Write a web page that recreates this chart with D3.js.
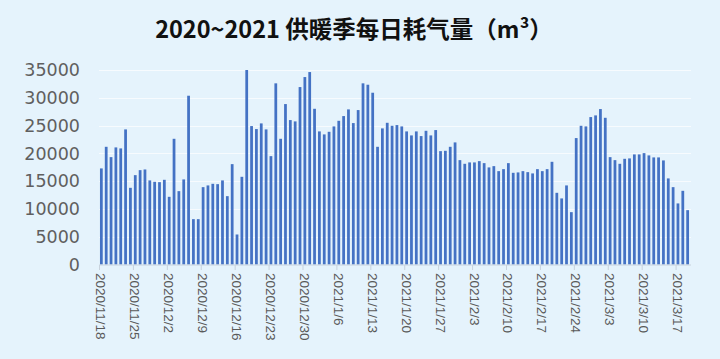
<!DOCTYPE html>
<html>
<head>
<meta charset="utf-8">
<script src="https://cdn.jsdelivr.net/npm/d3@7"></script>
<style>
  html, body { margin: 0; padding: 0; background: #e5f3fc; }
  svg { display: block; }
</style>
</head>
<body>
<svg id="chart" width="720" height="359"></svg>
<script>
const title = "2020~2021 供暖季每日耗气量（m³）";
const startDate = "2020/11/18";
const values = [
  17290, 21180, 19320, 21070, 20890, 24310, 13800, 16080, 16980, 17100,
  15130, 14880, 14820, 15240, 12180, 22620, 13200, 15310, 30370, 8160,
  8160, 13920, 14230, 14520, 14460, 15130, 12300, 18060, 5400, 15780,
  35000, 24910, 24370, 25390, 24310, 19500, 32600, 22620, 28870, 25990,
  25750, 31930, 33730, 34630, 28020, 23950, 23410, 23880, 24850, 25860,
  26710, 27910, 25450, 27790, 32600, 32350, 30910, 21180, 24490, 25500,
  24960, 25090, 24850, 23950, 23230, 23950, 23110, 24060, 23230, 24190,
  20400, 20460, 21180, 21970, 18780, 18120, 18370, 18370, 18600, 18240,
  17470, 17700, 16800, 17160, 18240, 16500, 16570, 16800, 16620, 16390,
  17160, 16800, 17160, 18480, 12900, 11890, 14230, 9420, 22750, 24960,
  24850, 26530, 26830, 27970, 26400, 19320, 18780, 18120, 19020, 19090,
  19810, 19810, 20040, 19630, 19270, 19270, 18730, 15490, 13920, 10990,
  13260, 9780
];
const yTicks = [0, 5000, 10000, 15000, 20000, 25000, 30000, 35000];
const tickLabels = ["2020/11/18", "2020/11/25", "2020/12/2", "2020/12/9", "2020/12/16",
  "2020/12/23", "2020/12/30", "2021/1/6", "2021/1/13", "2021/1/20", "2021/1/27",
  "2021/2/3", "2021/2/10", "2021/2/17", "2021/2/24", "2021/3/3", "2021/3/10", "2021/3/17"];

const parse = d3.timeParse("%Y/%m/%d");
const fmt = d => `${d.getFullYear()}/${d.getMonth() + 1}/${d.getDate()}`;
const start = parse(startDate);
const categories = values.map((v, i) => fmt(d3.timeDay.offset(start, i)));
const data = categories.map((c, i) => ({ c, v: values[i] }));

const svg = d3.select("#chart");
const W = 720, H = 359;

svg.append("rect").attr("width", W).attr("height", H).attr("fill", "#e5f3fc");

const x = d3.scaleBand().domain(categories).range([99, 690]).paddingInner(0.43).paddingOuter(0.2);
const y = d3.scaleLinear().domain([0, 35000]).range([264.5, 70]);

// gridlines
svg.append("g").selectAll("line").data(yTicks.filter(t => t > 0)).join("line")
  .attr("x1", 99).attr("x2", 691)
  .attr("y1", d => Math.round(y(d)) + 0.5).attr("y2", d => Math.round(y(d)) + 0.5)
  .attr("stroke", "#f7fbfe").attr("stroke-width", 1.2);

// y labels
svg.append("g").selectAll("text").data(yTicks).join("text")
  .attr("x", 80).attr("y", d => y(d)).attr("dy", "0.36em")
  .attr("text-anchor", "end")
  .attr("font-family", "'DejaVu Sans', sans-serif").attr("font-size", 17.5)
  .attr("fill", "#5f5f5f").text(d => d);

// bars
svg.append("g").selectAll("rect").data(data).join("rect")
  .attr("x", d => x(d.c)).attr("width", x.bandwidth())
  .attr("y", d => y(d.v)).attr("height", d => y(0) - y(d.v))
  .attr("fill", "#4472c4");

// x axis line
svg.append("line").attr("x1", 99).attr("x2", 691).attr("y1", 265).attr("y2", 265)
  .attr("stroke", "#c8d2dc").attr("stroke-width", 1);

const step = x.step();
const tickCats = tickLabels.filter(l => categories.includes(l));
svg.append("g").selectAll("line").data(tickCats).join("line")
  .attr("x1", d => x(d) - step * 0.1).attr("x2", d => x(d) - step * 0.1)
  .attr("y1", 265).attr("y2", 270)
  .attr("stroke", "#c8d2dc");

svg.append("g").selectAll("text").data(tickCats).join("text")
  .attr("transform", d => `translate(${x(d) + x.bandwidth() / 2},273) rotate(90)`)
  .attr("dy", "0.36em")
  .attr("text-anchor", "start")
  .attr("font-family", "'Liberation Sans', Arial, sans-serif").attr("font-size", 13.5)
  .attr("fill", "#595959").text(d => d);

// title
svg.append("text").attr("x", 354).attr("y", 38).attr("text-anchor", "middle")
  .attr("font-family", "'Noto Sans CJK SC', 'Noto Sans', sans-serif")
  .attr("font-weight", "bold").attr("font-size", 23.5).attr("fill", "#111")
  .text(title);
</script>
</body>
</html>
